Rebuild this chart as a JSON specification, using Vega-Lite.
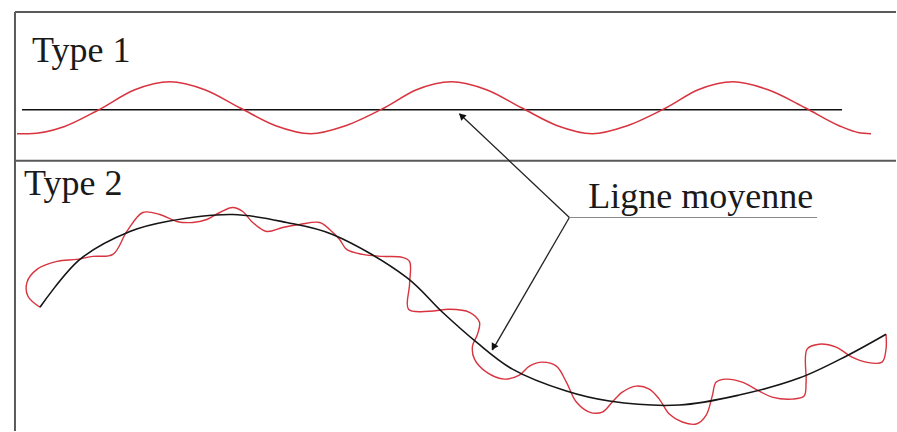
{
  "$schema": "https://vega.github.io/schema/vega-lite/v6.json",
  "width": 897,
  "height": 432,
  "autosize": {"type": "fit", "contains": "padding"},
  "padding": 0,
  "background": "white",
  "config": {"view": {"stroke": null}},
  "datasets": {
    "t1": [
      {"o":0,"x":17,"y":134},{"o":1,"x":29,"y":134},{"o":2,"x":64,"y":127},{"o":3,"x":99,"y":110},{"o":4,"x":135,"y":90},{"o":5,"x":170,"y":82},{"o":6,"x":205,"y":90},{"o":7,"x":240,"y":108},{"o":8,"x":276,"y":126},{"o":9,"x":311,"y":134},{"o":10,"x":346,"y":126},{"o":11,"x":385,"y":108},{"o":12,"x":417,"y":90},{"o":13,"x":452,"y":82},{"o":14,"x":487,"y":90},{"o":15,"x":522,"y":108},{"o":16,"x":558,"y":126},{"o":17,"x":593,"y":134},{"o":18,"x":628,"y":126},{"o":19,"x":667,"y":108},{"o":20,"x":699,"y":90},{"o":21,"x":734,"y":82},{"o":22,"x":769,"y":90},{"o":23,"x":806,"y":108},{"o":24,"x":840,"y":126},{"o":25,"x":860,"y":133},{"o":26,"x":872,"y":134}
    ],
    "m2": [
      {"o":0,"x":40,"y":308},{"o":1,"x":80,"y":260},{"o":2,"x":130,"y":232},{"o":3,"x":167,"y":222},{"o":4,"x":233,"y":215},{"o":5,"x":287,"y":223},{"o":6,"x":333,"y":235},{"o":7,"x":407,"y":278},{"o":8,"x":443,"y":313},{"o":9,"x":477,"y":343},{"o":10,"x":513,"y":370},{"o":11,"x":567,"y":392},{"o":12,"x":610,"y":402},{"o":13,"x":680,"y":406},{"o":14,"x":740,"y":396},{"o":15,"x":800,"y":379},{"o":16,"x":847,"y":357},{"o":17,"x":887,"y":335}
    ],
    "r2": [
      {"o":0,"x":40,"y":308},{"o":1,"x":28,"y":297},{"o":2,"x":27,"y":283},{"o":3,"x":37,"y":270},{"o":4,"x":57,"y":262},{"o":5,"x":77,"y":260},{"o":6,"x":93,"y":257},{"o":7,"x":113,"y":255},{"o":8,"x":127,"y":232},{"o":9,"x":143,"y":213},{"o":10,"x":160,"y":215},{"o":11,"x":177,"y":222},{"o":12,"x":193,"y":223},{"o":13,"x":207,"y":220},{"o":14,"x":220,"y":213},{"o":15,"x":233,"y":208},{"o":16,"x":243,"y":212},{"o":17,"x":253,"y":223},{"o":18,"x":267,"y":232},{"o":19,"x":283,"y":228},{"o":20,"x":300,"y":225},{"o":21,"x":320,"y":223},{"o":22,"x":330,"y":230},{"o":23,"x":340,"y":240},{"o":24,"x":347,"y":250},{"o":25,"x":363,"y":255},{"o":26,"x":383,"y":257},{"o":27,"x":403,"y":258},{"o":28,"x":410,"y":262},{"o":29,"x":410,"y":285},{"o":30,"x":409,"y":310},{"o":31,"x":430,"y":312},{"o":32,"x":450,"y":310},{"o":33,"x":470,"y":313},{"o":34,"x":480,"y":323},{"o":35,"x":478,"y":335},{"o":36,"x":473,"y":347},{"o":37,"x":475,"y":360},{"o":38,"x":487,"y":373},{"o":39,"x":505,"y":380},{"o":40,"x":520,"y":376},{"o":41,"x":530,"y":367},{"o":42,"x":543,"y":363},{"o":43,"x":557,"y":367},{"o":44,"x":567,"y":383},{"o":45,"x":577,"y":403},{"o":46,"x":590,"y":413},{"o":47,"x":603,"y":413},{"o":48,"x":613,"y":403},{"o":49,"x":623,"y":393},{"o":50,"x":637,"y":387},{"o":51,"x":650,"y":390},{"o":52,"x":660,"y":400},{"o":53,"x":670,"y":415},{"o":54,"x":683,"y":423},{"o":55,"x":697,"y":425},{"o":56,"x":707,"y":416},{"o":57,"x":713,"y":397},{"o":58,"x":717,"y":383},{"o":59,"x":727,"y":380},{"o":60,"x":743,"y":383},{"o":61,"x":760,"y":392},{"o":62,"x":773,"y":398},{"o":63,"x":793,"y":400},{"o":64,"x":805,"y":397},{"o":65,"x":807,"y":383},{"o":66,"x":808,"y":350},{"o":67,"x":820,"y":345},{"o":68,"x":837,"y":348},{"o":69,"x":853,"y":358},{"o":70,"x":867,"y":363},{"o":71,"x":883,"y":363},{"o":72,"x":887,"y":350},{"o":73,"x":887,"y":335}
    ],
    "frame": [
      {"x":15,"y":12,"x2":897,"y2":12},
      {"x":15,"y":12,"x2":15,"y2":432},
      {"x":15,"y":161,"x2":897,"y2":161}
    ],
    "arrows": [
      {"x":570,"y":218,"x2":460,"y2":114},
      {"x":570,"y":218,"x2":493,"y2":351}
    ],
    "heads": [
      {"x":462,"y":116,"a":313},
      {"x":494,"y":348,"a":210}
    ],
    "under": [{"x":570,"y":218,"x2":818,"y2":218}],
    "mean1": [{"x":22,"y":110,"x2":843,"y2":110}],
    "labels": [
      {"t":"Type 1","x":32,"y":62},
      {"t":"Type 2","x":24,"y":195}
    ],
    "note": [{"t":"Ligne moyenne","x":589,"y":208}]
  },
  "layer": [
    {
      "data": {"name": "frame"},
      "mark": {"type": "rule", "color": "#5a5a5a", "strokeWidth": 2},
      "encoding": {
        "x": {"field": "x", "type": "quantitative", "scale": {"domain": [0, 897], "nice": false, "zero": false}, "axis": null},
        "y": {"field": "y", "type": "quantitative", "scale": {"domain": [432, 0], "nice": false, "zero": false}, "axis": null},
        "x2": {"field": "x2"},
        "y2": {"field": "y2"}
      }
    },
    {
      "data": {"name": "mean1"},
      "mark": {"type": "rule", "color": "#111", "strokeWidth": 1.6},
      "encoding": {
        "x": {"field": "x", "type": "quantitative"},
        "y": {"field": "y", "type": "quantitative"},
        "x2": {"field": "x2"},
        "y2": {"field": "y2"}
      }
    },
    {
      "data": {"name": "t1"},
      "mark": {"type": "line", "color": "#d8343f", "strokeWidth": 1.5, "interpolate": "monotone"},
      "encoding": {
        "x": {"field": "x", "type": "quantitative"},
        "y": {"field": "y", "type": "quantitative"},
        "order": {"field": "o", "type": "quantitative"}
      }
    },
    {
      "data": {"name": "r2"},
      "mark": {"type": "line", "color": "#d8343f", "strokeWidth": 1.4, "interpolate": "catmull-rom"},
      "encoding": {
        "x": {"field": "x", "type": "quantitative"},
        "y": {"field": "y", "type": "quantitative"},
        "order": {"field": "o", "type": "quantitative"}
      }
    },
    {
      "data": {"name": "m2"},
      "mark": {"type": "line", "color": "#151515", "strokeWidth": 1.6, "interpolate": "catmull-rom"},
      "encoding": {
        "x": {"field": "x", "type": "quantitative"},
        "y": {"field": "y", "type": "quantitative"},
        "order": {"field": "o", "type": "quantitative"}
      }
    },
    {
      "data": {"name": "arrows"},
      "mark": {"type": "rule", "color": "#222", "strokeWidth": 1.3},
      "encoding": {
        "x": {"field": "x", "type": "quantitative"},
        "y": {"field": "y", "type": "quantitative"},
        "x2": {"field": "x2"},
        "y2": {"field": "y2"}
      }
    },
    {
      "data": {"name": "heads"},
      "mark": {"type": "point", "shape": "triangle-up", "filled": true, "color": "#111", "size": 60, "opacity": 1},
      "encoding": {
        "x": {"field": "x", "type": "quantitative"},
        "y": {"field": "y", "type": "quantitative"},
        "angle": {"field": "a", "type": "quantitative", "scale": null}
      }
    },
    {
      "data": {"name": "under"},
      "mark": {"type": "rule", "color": "#8a8a8a", "strokeWidth": 1.2},
      "encoding": {
        "x": {"field": "x", "type": "quantitative"},
        "y": {"field": "y", "type": "quantitative"},
        "x2": {"field": "x2"},
        "y2": {"field": "y2"}
      }
    },
    {
      "data": {"name": "labels"},
      "mark": {"type": "text", "font": "Liberation Serif", "fontSize": 36, "align": "left", "baseline": "alphabetic", "color": "#1a1a1a"},
      "encoding": {
        "x": {"field": "x", "type": "quantitative"},
        "y": {"field": "y", "type": "quantitative"},
        "text": {"field": "t"}
      }
    },
    {
      "data": {"name": "note"},
      "mark": {"type": "text", "font": "Liberation Serif", "fontSize": 36, "align": "left", "baseline": "alphabetic", "color": "#1a1a1a"},
      "encoding": {
        "x": {"field": "x", "type": "quantitative"},
        "y": {"field": "y", "type": "quantitative"},
        "text": {"field": "t"}
      }
    }
  ]
}
